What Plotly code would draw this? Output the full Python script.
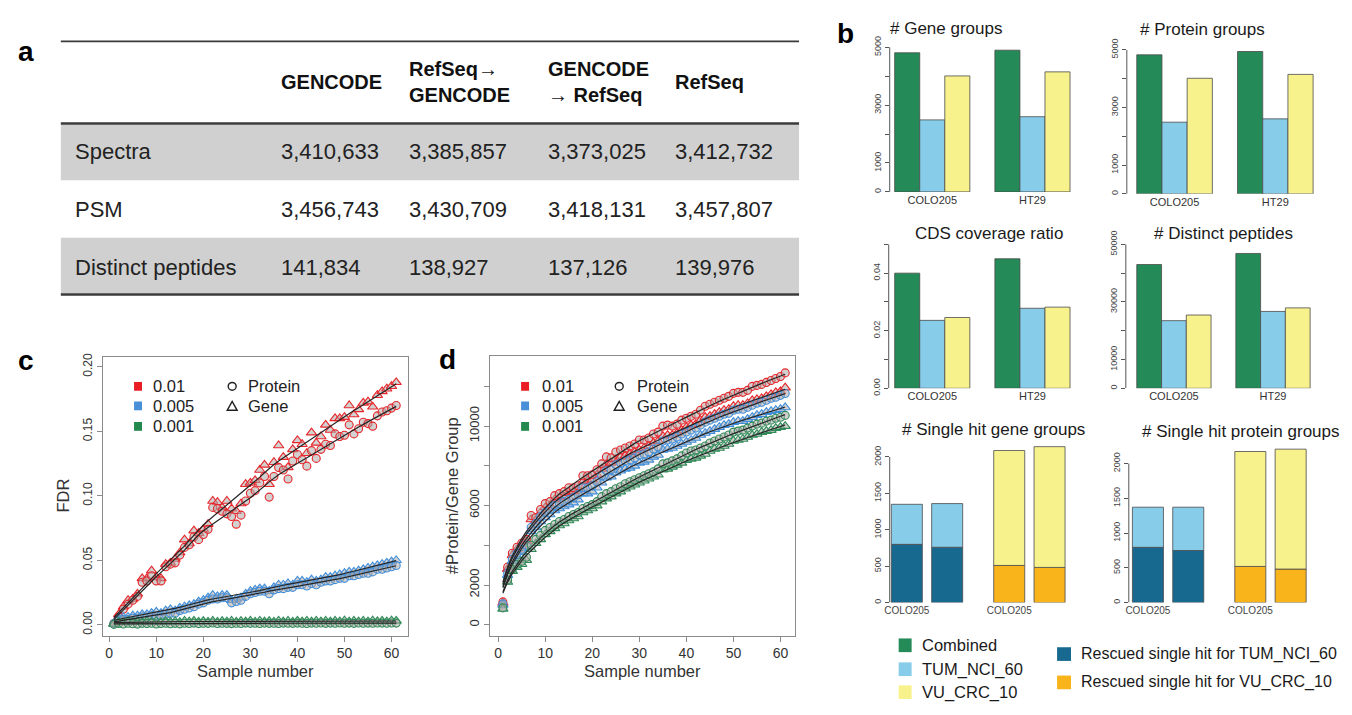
import numpy as np
import plotly.graph_objects as go

# The page body keeps the browser's default 8px margin, so the figure is sized to fit inside it
OFF = 8
W, H = 1352 - 2 * OFF, 715 - 2 * OFF
FONT = "Liberation Sans, Arial, sans-serif"


def X(p):
    return (p - OFF) / W


def Y(p):
    return 1 - (p - OFF) / H


# ---------------- Panel a : table ----------------
table_columns = ["GENCODE", "RefSeq→<br>GENCODE", "GENCODE<br>→ RefSeq", "RefSeq"]
row_labels = ["Spectra", "PSM", "Distinct peptides"]
spectra = [3410633, 3385857, 3373025, 3412732]
psm = [3456743, 3430709, 3418131, 3457807]
distinct_peptides = [141834, 138927, 137126, 139976]

# ---------------- Panel b : bar charts ----------------
cell_lines = ["COLO205", "HT29"]
series_names = ["Combined", "TUM_NCI_60", "VU_CRC_10"]
gene_groups_combined = [4810, 4900]
gene_groups_tum = [2490, 2600]
gene_groups_vu = [4010, 4150]
protein_groups_combined = [4830, 4945]
protein_groups_tum = [2490, 2605]
protein_groups_vu = [4015, 4150]
cds_cov_combined = [0.0400, 0.0450]
cds_cov_tum = [0.0236, 0.0278]
cds_cov_vu = [0.0246, 0.0282]
peptides_combined = [43000, 46840]
peptides_tum = [23500, 26700]
peptides_vu = [25460, 27940]

single_gene_rescued_tum = [800, 760]
single_gene_total_tum = [1350, 1360]
single_gene_rescued_vu = [510, 483]
single_gene_total_vu = [2089, 2142]
single_prot_rescued_tum = [795, 749]
single_prot_total_tum = [1372, 1372]
single_prot_rescued_vu = [520, 482]
single_prot_total_vu = [2173, 2207]

# ---------------- Panels c, d : sample curves ----------------
sample_number = list(range(1, 62))

fdr_protein_001 = [0.001, 0.006, 0.012, 0.016, 0.019, 0.022, 0.033, 0.034, 0.038, 0.034,
                   0.034, 0.045, 0.047, 0.048, 0.054, 0.060, 0.062, 0.068, 0.066, 0.070,
                   0.074, 0.091, 0.090, 0.088, 0.086, 0.084, 0.078, 0.085, 0.096, 0.102,
                   0.104, 0.110, 0.115, 0.099, 0.115, 0.122, 0.120, 0.113, 0.127, 0.132,
                   0.128, 0.123, 0.135, 0.129, 0.136, 0.140, 0.139, 0.148, 0.146, 0.147,
                   0.155, 0.148, 0.152, 0.157, 0.156, 0.154, 0.162, 0.165, 0.166, 0.168, 0.170]
fdr_gene_001 = [0.001, 0.008, 0.014, 0.019, 0.020, 0.024, 0.036, 0.036, 0.042, 0.037,
                0.036, 0.047, 0.048, 0.051, 0.056, 0.066, 0.063, 0.073, 0.071, 0.074,
                0.078, 0.096, 0.095, 0.091, 0.096, 0.090, 0.088, 0.094, 0.109, 0.110,
                0.112, 0.120, 0.124, 0.109, 0.126, 0.139, 0.130, 0.122, 0.136, 0.143,
                0.140, 0.133, 0.149, 0.141, 0.146, 0.155, 0.151, 0.160, 0.160, 0.161,
                0.170, 0.163, 0.167, 0.172, 0.173, 0.169, 0.178, 0.181, 0.183, 0.185, 0.188]
fdr_protein_0005 = [0.001, 0.003, 0.004, 0.004, 0.005, 0.005, 0.006, 0.006, 0.007, 0.007,
                    0.007, 0.008, 0.009, 0.009, 0.011, 0.012, 0.013, 0.014, 0.016, 0.017,
                    0.019, 0.020, 0.020, 0.021, 0.021, 0.017, 0.018, 0.019, 0.022, 0.024,
                    0.025, 0.026, 0.026, 0.024, 0.027, 0.028, 0.028, 0.029, 0.029, 0.031,
                    0.031, 0.030, 0.032, 0.031, 0.033, 0.034, 0.034, 0.035, 0.036, 0.036,
                    0.038, 0.038, 0.039, 0.040, 0.040, 0.041, 0.043, 0.043, 0.044, 0.045, 0.046]
fdr_gene_0005 = [0.001, 0.005, 0.006, 0.006, 0.007, 0.007, 0.008, 0.008, 0.009, 0.010,
                 0.009, 0.011, 0.012, 0.011, 0.013, 0.014, 0.015, 0.016, 0.018, 0.019,
                 0.021, 0.023, 0.022, 0.023, 0.023, 0.019, 0.020, 0.021, 0.024, 0.026,
                 0.027, 0.028, 0.028, 0.026, 0.029, 0.031, 0.031, 0.032, 0.031, 0.034,
                 0.034, 0.033, 0.035, 0.034, 0.035, 0.037, 0.037, 0.038, 0.039, 0.040,
                 0.041, 0.041, 0.042, 0.043, 0.044, 0.045, 0.046, 0.047, 0.048, 0.049, 0.050]
fdr_protein_0001 = [0.0003, 0.0010, 0.0006, 0.0012, 0.0008, 0.0005, 0.0011, 0.0009, 0.0012, 0.0006,
                    0.0010, 0.0012, 0.0008, 0.0011, 0.0007, 0.0012, 0.0010, 0.0013, 0.0009, 0.0012,
                    0.0011, 0.0014, 0.0010, 0.0012, 0.0011, 0.0009, 0.0012, 0.0010, 0.0013, 0.0011,
                    0.0012, 0.0010, 0.0013, 0.0011, 0.0012, 0.0010, 0.0013, 0.0012, 0.0011, 0.0013,
                    0.0012, 0.0010, 0.0013, 0.0012, 0.0014, 0.0011, 0.0013, 0.0012, 0.0014, 0.0012,
                    0.0013, 0.0011, 0.0014, 0.0012, 0.0013, 0.0012, 0.0014, 0.0013, 0.0012, 0.0014, 0.0013]
fdr_gene_0001 = [0.0005, 0.0022, 0.0018, 0.0028, 0.0020, 0.0026, 0.0019, 0.0028, 0.0021, 0.0027,
                 0.0020, 0.0028, 0.0022, 0.0027, 0.0021, 0.0029, 0.0024, 0.0030, 0.0022, 0.0028,
                 0.0023, 0.0029, 0.0022, 0.0028, 0.0024, 0.0029, 0.0022, 0.0028, 0.0024, 0.0030,
                 0.0023, 0.0029, 0.0024, 0.0028, 0.0023, 0.0030, 0.0024, 0.0029, 0.0023, 0.0030,
                 0.0025, 0.0029, 0.0024, 0.0030, 0.0025, 0.0029, 0.0024, 0.0030, 0.0025, 0.0031,
                 0.0024, 0.0030, 0.0025, 0.0029, 0.0025, 0.0031, 0.0026, 0.0030, 0.0025, 0.0031, 0.0030]

count_protein_001 = [1150, 2900, 3600, 3900, 4100, 4300, 5500, 5400, 5800, 6100,
                     6200, 6500, 6600, 6700, 6900, 6900, 7000, 7500, 7500, 7550,
                     7800, 8100, 8450, 8400, 8700, 8800, 8900, 9000, 9100, 9300,
                     9300, 9400, 9600, 9700, 10000, 10050, 10000, 10100, 10300, 10400,
                     10500, 10600, 10800, 11000, 11100, 11200, 11300, 11400, 11500, 11650,
                     11700, 11700, 11800, 12000, 12050, 12100, 12200, 12300, 12400, 12500, 12680]
count_gene_001 = [1100, 2800, 3500, 3800, 3950, 4200, 5300, 5250, 5650, 5900,
                  6000, 6300, 6400, 6450, 6650, 6700, 6800, 7200, 7250, 7300,
                  7550, 7850, 8100, 8150, 8350, 8450, 8500, 8600, 8700, 8800,
                  8900, 9000, 9150, 9250, 9500, 9550, 9550, 9650, 9800, 9950,
                  10050, 10100, 10300, 10450, 10500, 10600, 10700, 10800, 10850, 11000,
                  11050, 11050, 11150, 11300, 11350, 11400, 11500, 11600, 11700, 11750, 11940]
count_protein_0005 = [1050, 2600, 3300, 3600, 3800, 4000, 4900, 5100, 5450, 5650,
                      5800, 6000, 6100, 6200, 6300, 6400, 6550, 6900, 6900, 7000,
                      7200, 7500, 7750, 7800, 8050, 8150, 8250, 8300, 8400, 8550,
                      8600, 8700, 8850, 8950, 9250, 9300, 9350, 9450, 9600, 9700,
                      9800, 9900, 10050, 10200, 10300, 10400, 10500, 10600, 10650, 10800,
                      10850, 10850, 10950, 11050, 11150, 11200, 11300, 11400, 11450, 11550, 11640]
count_gene_0005 = [1000, 2500, 3200, 3450, 3650, 3850, 4700, 4900, 5200, 5400,
                   5550, 5750, 5850, 5950, 6050, 6150, 6300, 6600, 6600, 6700,
                   6900, 7150, 7400, 7450, 7650, 7750, 7850, 7900, 8000, 8150,
                   8200, 8300, 8450, 8550, 8800, 8850, 8900, 9000, 9100, 9200,
                   9300, 9400, 9550, 9650, 9750, 9850, 9950, 10050, 10100, 10200,
                   10250, 10250, 10350, 10450, 10550, 10600, 10700, 10750, 10800, 10850, 10940]
count_protein_0001 = [850, 2250, 2800, 3050, 3200, 3400, 4000, 4300, 4500, 4750,
                      4900, 5050, 5200, 5300, 5450, 5550, 5650, 5850, 5950, 6050,
                      6200, 6450, 6600, 6700, 6850, 6950, 7100, 7200, 7300, 7400,
                      7500, 7600, 7700, 7850, 8100, 8150, 8250, 8350, 8500, 8650,
                      8750, 8800, 8900, 9000, 9150, 9250, 9350, 9450, 9550, 9700,
                      9750, 9800, 9900, 10000, 10100, 10150, 10250, 10300, 10400, 10450, 10540]
count_gene_0001 = [800, 2150, 2700, 2900, 3050, 3250, 3800, 4100, 4300, 4550,
                   4700, 4850, 5000, 5100, 5250, 5350, 5450, 5650, 5750, 5850,
                   6000, 6200, 6350, 6450, 6600, 6700, 6850, 6950, 7050, 7150,
                   7250, 7350, 7450, 7550, 7800, 7850, 7950, 8050, 8150, 8280,
                   8350, 8400, 8500, 8600, 8750, 8850, 8900, 9000, 9100, 9250,
                   9300, 9350, 9450, 9550, 9600, 9700, 9750, 9800, 9900, 9950, 10000]

threshold_labels = ["0.01", "0.005", "0.001"]

# ---------------- styling ----------------
C_GREEN = "#248b58"
C_SKY = "#87cdea"
C_YELLOW = "#f8f28d"
C_DARKBLUE = "#17698f"
C_ORANGE = "#f9b31b"
PT_COLORS = ["#e8262b", "#3f8edb", "#2e8b57"]
LEG_COLORS = ["#ea1c24", "#4a90d9", "#23894f"]
PT_FILL = "rgba(175,170,170,0.55)"
TXT = "#222222"
AX = "#8a8a8a"


def lowess(xs, ys, xe, frac):
    xs = np.asarray(xs, float)
    ys = np.asarray(ys, float)
    n = len(xs)
    r = max(3, int(np.ceil(frac * n)))
    out = []
    for x0 in xe:
        d = np.abs(xs - x0)
        h = np.sort(d)[r - 1] * 1.0001
        u = np.clip(d / h, 0, 1)
        w = (1 - u ** 3) ** 3
        sw = np.sqrt(w)
        A = np.vstack([np.ones(n), xs - x0]).T
        beta = np.linalg.lstsq(A * sw[:, None], ys * sw, rcond=None)[0]
        out.append(beta[0])
    return np.array(out)


fig = go.Figure()
shapes = []
ann = []


def text(x, y, s, size, xanchor="left", color=TXT, angle=0, bold=False, yanchor="middle"):
    ann.append(dict(x=X(x), y=Y(y), xref="paper", yref="paper", text=("<b>%s</b>" % s) if bold else s,
                    showarrow=False, xanchor=xanchor, yanchor=yanchor, textangle=angle,
                    font=dict(family=FONT, size=size, color=color)))


# ---------------- Panel a ----------------
shapes.append(dict(type="rect", xref="paper", yref="paper", x0=X(56), x1=X(797), y0=Y(175), y1=Y(118),
                   fillcolor="#d0d0d0", line=dict(width=0), layer="below"))
shapes.append(dict(type="rect", xref="paper", yref="paper", x0=X(56), x1=X(797), y0=Y(291), y1=Y(234),
                   fillcolor="#d0d0d0", line=dict(width=0), layer="below"))
for yy, lw in [(33, 1.8), (117, 2.5), (292, 2.5)]:
    shapes.append(dict(type="line", xref="paper", yref="paper", x0=X(56), x1=X(797), y0=Y(yy), y1=Y(yy),
                       line=dict(color="#3a3a3a", width=lw)))
col_x = [275, 403, 543, 670]
for cx, name in zip(col_x, table_columns):
    ann.append(dict(x=X(cx), y=Y(75), xref="paper", yref="paper", text="<b>%s</b>" % name, showarrow=False,
                    xanchor="left", yanchor="middle", align="left",
                    font=dict(family=FONT, size=20, color="#111111")))
row_y = [146, 205, 264]
for ry, lab, vals in zip(row_y, row_labels, [spectra, psm, distinct_peptides]):
    text(68, ry, lab, 22)
    for cx, v in zip(col_x, vals):
        text(cx, ry, "{:,}".format(v), 22)

# panel letters
text(21, 43, "a", 28, xanchor="center", color="#000", bold=True)
text(844, 25, "b", 28, xanchor="center", color="#000", bold=True)
text(21, 360, "c", 28, xanchor="center", color="#000", bold=True)
text(444, 359, "d", 28, xanchor="center", color="#000", bold=True)

# ---------------- Panel b ----------------
layout_axes = {}


def add_grouped(k, title, tx, ty, axis_px, bl, br, zero_px, top_px, tick_top, step, labeled, fmt, data):
    ppu = (br - bl) / 1.75
    xr = [-0.375 - (bl - axis_px) / ppu, 1.375 + 6 / ppu]
    mx = max(max(d) for d in data)
    rtop = max(tick_top, mx) * 1.03
    ppv = (zero_px - top_px) / tick_top
    dom_top = zero_px - rtop * ppv
    xa, ya = "x%d" % k, "y%d" % k
    for name, vals, col in zip(series_names, data, [C_GREEN, C_SKY, C_YELLOW]):
        fig.add_trace(go.Bar(x=cell_lines, y=vals, name=name, xaxis=xa, yaxis=ya, showlegend=False,
                             marker=dict(color=col, line=dict(color="#4a4a4a", width=0.8))))
    tv = list(np.round(np.arange(0, tick_top + step / 2, step), 6))
    tt = [fmt(v) if any(abs(v - l) < 1e-9 for l in labeled) else "" for v in tv]
    layout_axes["xaxis%d" % k] = dict(domain=[X(axis_px), X(br + 6)], range=xr, anchor=ya, showline=False,
                                      showgrid=False, zeroline=False, ticks="",
                                      tickfont=dict(family=FONT, size=11, color="#333"))
    layout_axes["yaxis%d" % k] = dict(domain=[Y(zero_px), Y(dom_top)], range=[0, rtop], anchor=xa,
                                      showline=False, showgrid=False, zeroline=False, ticks="outside",
                                      ticklen=4, tickcolor="#555", tickvals=tv, ticktext=tt, tickangle=-90,
                                      tickfont=dict(family=FONT, size=9, color="#444"))
    shapes.append(dict(type="line", xref="%s domain" % xa, yref=ya, x0=0, x1=0, y0=0, y1=tick_top,
                       line=dict(color="#555", width=1)))
    text(tx, ty, title, 17, xanchor="center", color="#1a1a1a")


add_grouped(3, "# Gene groups", 945, 20, 888, 893, 1069, 187, 39, 5000, 1000, [0, 1000, 3000, 5000],
            lambda v: "%d" % v, [gene_groups_combined, gene_groups_tum, gene_groups_vu])
add_grouped(4, "# Protein groups", 1202, 21, 1126, 1136, 1313, 189, 41.7, 5000, 1000, [0, 1000, 3000, 5000],
            lambda v: "%d" % v, [protein_groups_combined, protein_groups_tum, protein_groups_vu])
add_grouped(5, "CDS coverage ratio", 988, 230, 887, 893, 1069, 388, 240.7, 0.05, 0.01, [0, 0.02, 0.04],
            lambda v: "%.2f" % v, [cds_cov_combined, cds_cov_tum, cds_cov_vu])
add_grouped(6, "# Distinct peptides", 1223, 230, 1125, 1136, 1310, 388, 240.7, 50000, 10000,
            [0, 10000, 30000, 50000], lambda v: "%d" % v, [peptides_combined, peptides_tum, peptides_vu])

bar_space = [0.3, 1.0, 0.3]
lefts = np.concatenate([[0.0], np.cumsum(1.0 + np.array(bar_space))])
centers = lefts + 0.5
span = lefts[-1] + 1.0


def add_stacked(k, title, tx, ty, axis_px, bl, br, zero_px, top_px, resc_tum, tot_tum, resc_vu, tot_vu):
    tick_top, step = 2000, 500
    ppu = (br - bl) / span
    xr = [-(bl - axis_px) / ppu - 0.02, span + 6 / ppu]
    rtop = max(tick_top, max(tot_vu), max(tot_tum)) * 1.03
    ppv = (zero_px - top_px) / tick_top
    dom_top = zero_px - rtop * ppv
    xa, ya = "x%d" % k, "y%d" % k
    xt, xv = list(centers[:2]), list(centers[2:])
    mk = lambda c: dict(color=c, line=dict(color="#4a4a4a", width=0.8))
    fig.add_trace(go.Bar(x=xt, y=resc_tum, width=1, offsetgroup="s", marker=mk(C_DARKBLUE),
                         xaxis=xa, yaxis=ya, showlegend=False))
    fig.add_trace(go.Bar(x=xt, y=[t - r for t, r in zip(tot_tum, resc_tum)], base=resc_tum, width=1,
                         offsetgroup="s", marker=mk(C_SKY), xaxis=xa, yaxis=ya, showlegend=False))
    fig.add_trace(go.Bar(x=xv, y=resc_vu, width=1, offsetgroup="s", marker=mk(C_ORANGE),
                         xaxis=xa, yaxis=ya, showlegend=False))
    fig.add_trace(go.Bar(x=xv, y=[t - r for t, r in zip(tot_vu, resc_vu)], base=resc_vu, width=1,
                         offsetgroup="s", marker=mk(C_YELLOW), xaxis=xa, yaxis=ya, showlegend=False))
    tv = list(range(0, tick_top + 1, step))
    layout_axes["xaxis%d" % k] = dict(domain=[X(axis_px), X(br + 6)], range=xr, anchor=ya, showline=False,
                                      showgrid=False, zeroline=False, ticks="",
                                      tickvals=list(centers), ticktext=[cell_lines[0], "", cell_lines[0], ""],
                                      tickfont=dict(family=FONT, size=10, color="#444"))
    layout_axes["yaxis%d" % k] = dict(domain=[Y(zero_px), Y(dom_top)], range=[0, rtop], anchor=xa,
                                      showline=False, showgrid=False, zeroline=False, ticks="outside",
                                      ticklen=4, tickcolor="#555", tickvals=tv, ticktext=[str(v) for v in tv],
                                      tickangle=-90, tickfont=dict(family=FONT, size=9, color="#444"))
    shapes.append(dict(type="line", xref="%s domain" % xa, yref=ya, x0=0, x1=0, y0=0, y1=tick_top,
                       line=dict(color="#555", width=1)))
    text(tx, ty, title, 17, xanchor="center", color="#1a1a1a")


add_stacked(7, "# Single hit gene groups", 992, 430, 888, 889, 1064, 607.3, 458.3,
            single_gene_rescued_tum, single_gene_total_tum, single_gene_rescued_vu, single_gene_total_vu)
add_stacked(8, "# Single hit protein groups", 1241, 432, 1128, 1131, 1306, 607.3, 465,
            single_prot_rescued_tum, single_prot_total_tum, single_prot_rescued_vu, single_prot_total_vu)

# bottom legend
for (yc, col, lab) in [(651, C_GREEN, series_names[0]), (675.5, C_SKY, series_names[1]),
                       (699, C_YELLOW, series_names[2])]:
    shapes.append(dict(type="rect", xref="paper", yref="paper", x0=X(897), x1=X(910), y0=Y(yc + 7),
                       y1=Y(yc - 7), fillcolor=col, line=dict(width=0)))
    text(918, yc, lab, 16.5, color="#1a1a1a")
for (yc, col, lab) in [(660, C_DARKBLUE, "Rescued single hit for " + series_names[1]),
                       (689, C_ORANGE, "Rescued single hit for " + series_names[2])]:
    shapes.append(dict(type="rect", xref="paper", yref="paper", x0=X(1056), x1=X(1070), y0=Y(yc + 7),
                       y1=Y(yc - 7), fillcolor=col, line=dict(width=0)))
    text(1078, yc, lab, 16, color="#1a1a1a")

# ---------------- Panels c and d ----------------
xs = np.array(sample_number, float)


def add_curves(xa, ya, prot_list, gene_list, logfit):
    for i in range(3):
        for vals, sym, sz in [(gene_list[i], "triangle-up", 9), (prot_list[i], "circle", 8)]:
            fig.add_trace(go.Scatter(x=sample_number, y=vals, mode="markers", xaxis=xa, yaxis=ya,
                                     showlegend=False,
                                     marker=dict(symbol=sym, size=sz, color=PT_FILL,
                                                 line=dict(color=PT_COLORS[i], width=1.1))))
    for i in range(3):
        for vals in (gene_list[i], prot_list[i]):
            v = np.array(vals, float)
            if logfit:
                fit = np.exp(lowess(np.log(xs[1:]), np.log(v[1:]), np.log(xs), 0.45))
            else:
                fit = lowess(xs, v, xs, 0.3)
            fig.add_trace(go.Scatter(x=sample_number, y=fit, mode="lines", xaxis=xa, yaxis=ya,
                                     showlegend=False, line=dict(color="#262626", width=1.2)))


add_curves("x", "y", [fdr_protein_001, fdr_protein_0005, fdr_protein_0001],
           [fdr_gene_001, fdr_gene_0005, fdr_gene_0001], False)
add_curves("x2", "y2", [count_protein_001, count_protein_0005, count_protein_0001],
           [count_gene_001, count_gene_0005, count_gene_0001], True)

base_ax = dict(showline=True, mirror=True, linecolor=AX, linewidth=1, showgrid=False, zeroline=False,
               ticks="outside", ticklen=5, tickcolor=AX)
layout_axes["xaxis"] = dict(base_ax, domain=[X(98), X(404)], range=[-1.4, 63.4], anchor="y",
                            tickvals=[0, 10, 20, 30, 40, 50, 60],
                            tickfont=dict(family=FONT, size=14, color="#333"))
layout_axes["yaxis"] = dict(base_ax, domain=[Y(641), Y(356)], range=[-0.00833, 0.2076], anchor="x",
                            tickvals=[0, 0.05, 0.10, 0.15, 0.20],
                            ticktext=["0.00", "0.05", "0.10", "0.15", "0.20"], tickangle=-90,
                            tickfont=dict(family=FONT, size=12, color="#333"))
layout_axes["xaxis2"] = dict(base_ax, domain=[X(487), X(793)], range=[-1.7, 63.1], anchor="y2",
                             tickvals=[0, 10, 20, 30, 40, 50, 60],
                             tickfont=dict(family=FONT, size=14, color="#333"))
layout_axes["yaxis2"] = dict(base_ax, domain=[Y(641), Y(355)], range=[-541, 13527], anchor="x2",
                             tickvals=[0, 2000, 4000, 6000, 8000, 10000, 12000],
                             ticktext=["0", "2000", "", "6000", "", "10000", ""], tickangle=-90,
                             tickfont=dict(family=FONT, size=13, color="#333"))

text(251, 677, "Sample number", 16.5, xanchor="center", color="#333")
text(640, 677, "Sample number", 16.5, xanchor="center", color="#333")
text(58, 498, "FDR", 16.5, xanchor="center", color="#333", angle=-90)
text(448, 498, "#Protein/Gene Group", 16.5, xanchor="center", color="#333", angle=-90)


def inner_legend(sq_x, txt_x, sym_x, sym_txt_x):
    for i, (lab, yc) in enumerate(zip(threshold_labels, [386, 406, 427])):
        shapes.append(dict(type="rect", xref="paper", yref="paper", x0=X(sq_x - 4), x1=X(sq_x + 4),
                           y0=Y(yc + 4.5), y1=Y(yc - 4.5), fillcolor=LEG_COLORS[i], line=dict(width=0)))
        text(txt_x, yc, lab, 16.5, color="#222")
    shapes.append(dict(type="circle", xref="paper", yref="paper", x0=X(sym_x - 4), x1=X(sym_x + 4),
                       y0=Y(386 + 4), y1=Y(386 - 4), line=dict(color="#222", width=1.4)))
    shapes.append(dict(type="path", xref="paper", yref="paper",
                       path="M %f,%f L %f,%f L %f,%f Z" % (X(sym_x - 5), Y(410.5), X(sym_x + 5), Y(410.5),
                                                           X(sym_x), Y(401.5)),
                       line=dict(color="#222", width=1.4)))
    text(sym_txt_x, 386, "Protein", 16.5, color="#222")
    text(sym_txt_x, 406, "Gene", 16.5, color="#222")


inner_legend(133.5, 147, 228, 242)
inner_legend(522, 537, 616.5, 632)

fig.update_layout(width=W, height=H, margin=dict(l=0, r=0, t=0, b=0), paper_bgcolor="white",
                  plot_bgcolor="rgba(0,0,0,0)", barmode="group", bargap=0.25, bargroupgap=0,
                  shapes=shapes, annotations=ann, showlegend=False,
                  font=dict(family=FONT, color=TXT), **layout_axes)

fig.write_html("out.html", config={"displayModeBar": False})
